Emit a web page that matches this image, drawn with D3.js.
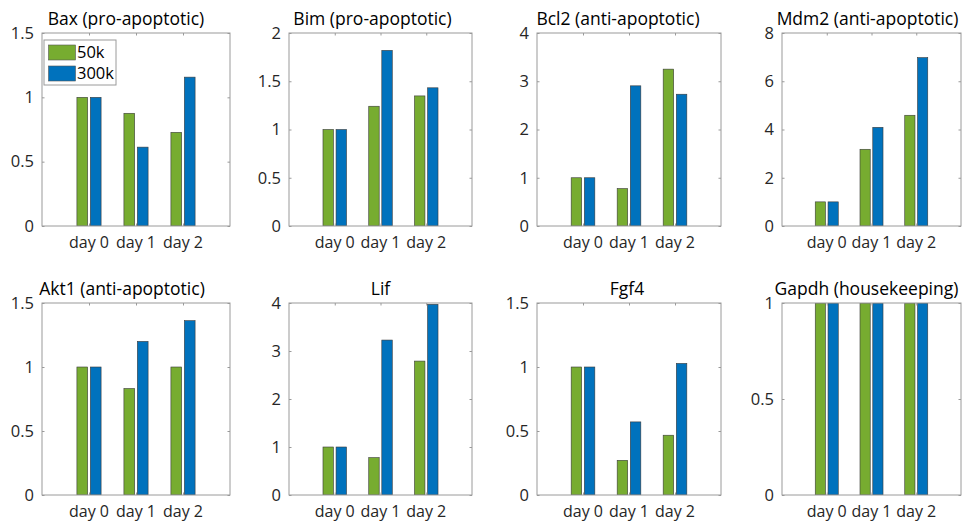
<!DOCTYPE html>
<html>
<head>
<meta charset="utf-8">
<script src="https://cdn.jsdelivr.net/npm/d3@7"></script>
<style>
  html, body { margin: 0; padding: 0; background: #fff; }
  svg { display: block; font-family: "Open Sans", "Noto Sans", sans-serif; }
</style>
</head>
<body>
<svg id="chart" width="962" height="525"></svg>
<script>
// qPCR fold change relative to day 0, for two seeding densities
const days = ["day 0", "day 1", "day 2"];
const series = ["50k", "300k"];
const genes = [
  "Bax (pro-apoptotic)", "Bim (pro-apoptotic)", "Bcl2 (anti-apoptotic)", "Mdm2 (anti-apoptotic)",
  "Akt1 (anti-apoptotic)", "Lif", "Fgf4", "Gapdh (housekeeping)"
];
const values50k = [
  [1, 0.876, 0.728],
  [1, 1.241, 1.348],
  [1, 0.776, 3.251],
  [1, 3.18, 4.59],
  [1, 0.832, 1.0],
  [1, 0.779, 2.79],
  [1, 0.271, 0.467],
  [1, 1, 1]
];
const values300k = [
  [1, 0.613, 1.157],
  [1, 1.82, 1.432],
  [1, 2.905, 2.731],
  [1, 4.09, 6.98],
  [1, 1.2, 1.362],
  [1, 3.228, 3.972],
  [1, 0.571, 1.028],
  [1, 1, 1]
];
const yTicks = [
  [0, 0.5, 1, 1.5],
  [0, 0.5, 1, 1.5, 2],
  [0, 1, 2, 3, 4],
  [0, 2, 4, 6, 8],
  [0, 0.5, 1, 1.5],
  [0, 1, 2, 3, 4],
  [0, 0.5, 1, 1.5],
  [0, 0.5, 1]
];

const colors = ["#77ac30", "#0072bd"];

// panel layout (4 columns x 2 rows)
const colLeft = [42, 289, 537, 782];
const colRight = [230, 472, 721, 961];
const rowTop = [33, 303];
const rowBottom = [226, 495];
const titleDx = [-10, -8, -11, -4, -14, 0, -2, -5];

const svg = d3.select("#chart");

// grouped bar geometry, in category units
const groupWidth = Math.min(0.8, series.length / (series.length + 1.5));
const slot = groupWidth / series.length;
const barW = slot * 0.8;

genes.forEach((gene, gi) => {
  const c = gi % 4, r = Math.floor(gi / 4);
  const x0 = colLeft[c], x1 = colRight[c], y0 = rowTop[r], y1 = rowBottom[r];
  const ticks = yTicks[gi];

  const x = d3.scaleLinear().domain([0, days.length + 1]).range([x0, x1]);
  const y = d3.scaleLinear().domain([0, ticks[ticks.length - 1]]).range([y1, y0]);

  const g = svg.append("g");
  const clipId = "clip" + gi;
  g.append("clipPath").attr("id", clipId)
    .append("rect").attr("x", x0).attr("y", y0).attr("width", x1 - x0).attr("height", y1 - y0);

  // bars
  const bars = g.append("g").attr("clip-path", `url(#${clipId})`);
  [values50k[gi], values300k[gi]].forEach((vals, si) => {
    const offset = (si - (series.length - 1) / 2) * slot;
    bars.selectAll(null).data(vals).enter().append("rect")
      .attr("x", (d, i) => x(i + 1 + offset - barW / 2))
      .attr("width", (d, i) => x(i + 1 + offset + barW / 2) - x(i + 1 + offset - barW / 2))
      .attr("y", d => y(d))
      .attr("height", d => y(0) - y(d))
      .attr("fill", colors[si])
      .attr("stroke", "#3a3a3a")
      .attr("stroke-width", 0.6);
  });

  // axes: ticks on all four sides, pointing inward, labels on left and bottom
  const tickLen = 2.5;
  const axisColor = "#9a9a9a";
  const left = g.append("g").attr("transform", `translate(${x0},0)`)
    .call(d3.axisRight(y).tickValues(ticks).tickSize(tickLen).tickFormat(""));
  const right = g.append("g").attr("transform", `translate(${x1},0)`)
    .call(d3.axisLeft(y).tickValues(ticks).tickSize(tickLen).tickFormat(""));
  const top = g.append("g").attr("transform", `translate(0,${y0})`)
    .call(d3.axisBottom(x).tickValues([1, 2, 3]).tickSize(tickLen).tickFormat(""));
  const bottom = g.append("g").attr("transform", `translate(0,${y1})`)
    .call(d3.axisTop(x).tickValues([1, 2, 3]).tickSize(tickLen).tickFormat(""));
  [left, right, top, bottom].forEach(a => {
    a.selectAll("path").remove();
    a.selectAll("line").attr("stroke", axisColor);
  });

  // y tick labels
  g.append("g").selectAll("text").data(ticks).enter().append("text")
    .attr("x", x0 - 8).attr("y", d => y(d)).attr("dy", "0.35em")
    .attr("text-anchor", "end").attr("font-size", 16.5).attr("fill", "#262626")
    .text(d => String(d));

  // x tick labels
  g.append("g").selectAll("text").data(days).enter().append("text")
    .attr("x", (d, i) => x(i + 1)).attr("y", y1 + 22)
    .attr("text-anchor", "middle").attr("font-size", 16).attr("fill", "#262626")
    .text(d => d);

  // box
  g.append("rect").attr("x", x0).attr("y", y0).attr("width", x1 - x0).attr("height", y1 - y0)
    .attr("fill", "none").attr("stroke", axisColor).attr("stroke-width", 1);

  // title
  g.append("text").attr("x", (x0 + x1) / 2 + titleDx[gi]).attr("y", y0 - 8)
    .attr("text-anchor", "middle").attr("font-size", 17.5).attr("fill", "#000")
    .text(gene);

  // legend in the first panel
  if (gi === 0) {
    const lg = g.append("g");
    lg.append("rect").attr("x", 44).attr("y", 40).attr("width", 72).attr("height", 45)
      .attr("fill", "#fff").attr("stroke", axisColor).attr("stroke-width", 1);
    series.forEach((s, si) => {
      const ly = 45 + si * 21;
      lg.append("rect").attr("x", 48.5).attr("y", ly).attr("width", 27).attr("height", 15)
        .attr("fill", colors[si]).attr("stroke", "#555").attr("stroke-width", 0.6);
      lg.append("text").attr("x", 77).attr("y", ly + 7.5).attr("dy", "0.35em")
        .attr("font-size", 16.5).attr("fill", "#000").text(s);
    });
  }
});
</script>
</body>
</html>
